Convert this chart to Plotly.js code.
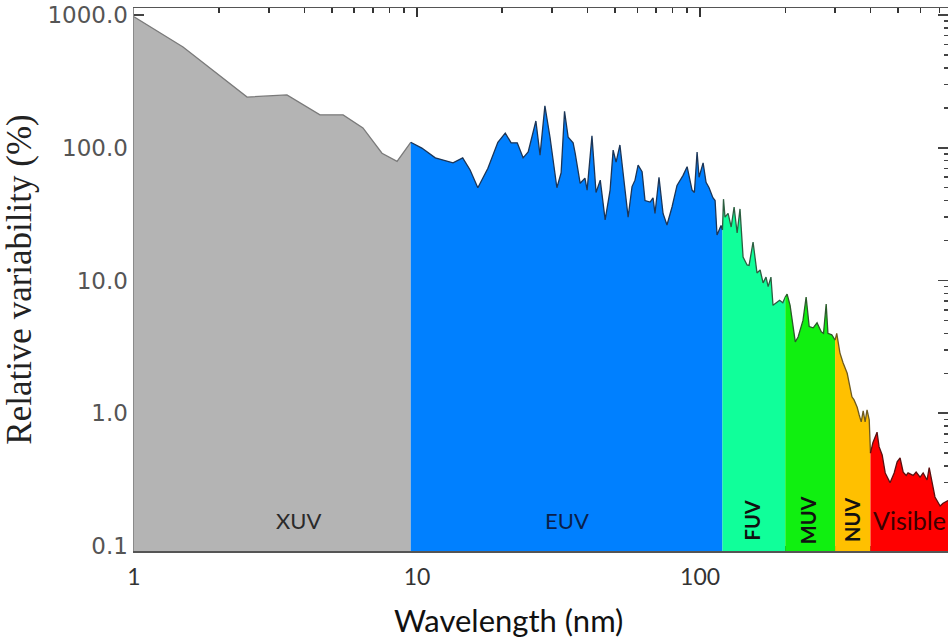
<!DOCTYPE html>
<html><head><meta charset="utf-8">
<script src="https://cdn.plot.ly/plotly-3.0.1.min.js"></script>
<style>html,body{margin:0;padding:0;background:#fff;} #chart{width:948px;height:638px;}</style>
</head><body><div id="chart"></div>
<script>
// ---- data (wavelength in nm, relative variability in %) ----
const bandNames = ['XUV', 'EUV', 'FUV', 'MUV', 'NUV', 'Visible'];

const xuvWl  = [1.0, 1.49, 2.51, 3.47, 4.54, 5.48, 6.44, 7.52, 8.50, 9.5];
const xuvVal = [970, 574, 241, 250, 177, 177, 141, 91, 79, 110];

const euvWl  = [9.5, 10.4, 11.6, 13.4, 14.5, 15.4, 16.4, 17.8, 19.3, 20.5, 21.5, 22.6, 23.7, 24.7, 26.3, 27.2, 28.3, 29.5, 31.2, 32.3,
                33.2, 34.2, 35.6, 36.2, 37.7, 39.2, 39.9, 41.5, 42.9, 44.4, 46.2, 48.1, 49.3, 50.5, 52.1, 54.3, 55.7, 57.5, 58.9, 60.4,
                62.4, 63.9, 66.6, 68.2, 69.3, 71.6, 74.0, 76.4, 79.6, 82.9, 87.1, 90.0, 93.7, 95.5, 97.6, 99.2, 102.5, 105, 107.6, 111,
                113, 114.8, 116.5, 118.6, 120];
const euvVal = [110, 99.5, 84, 77, 84, 68, 50, 70, 110, 129, 109, 109, 84, 93, 159, 88, 207, 120, 50, 65,
                188, 120, 109, 91, 54, 59, 48, 123, 46, 57, 28.6, 48, 96, 78, 105, 46, 30, 51, 57, 74,
                66, 40, 39, 42, 32, 60, 32, 26.2, 35.8, 52, 62, 72, 48, 46, 93, 60, 77, 55, 50, 42,
                40, 22, 23.5, 26, 24];

const fuvWl  = [120, 121, 122.5, 125.6, 128.8, 131.9, 135.2, 138.4, 141.9, 146.6, 149, 153.9, 158.9, 163, 167, 171, 174, 178, 181, 187, 191, 196, 200];
const fuvVal = [24, 41, 30, 32, 25.3, 35.8, 22.8, 34.6, 15, 13.1, 13, 19.5, 11.4, 12, 9.6, 10.6, 9.0, 10.6, 6.5, 6.9, 7.1, 6.8, 7.5];

const muvWl  = [200, 203, 208, 217, 222, 231, 237, 243, 251, 259, 268, 273, 279, 283, 292, 300];
const muvVal = [7.5, 7.9, 6.5, 3.45, 3.75, 5.0, 7.5, 4.5, 4.4, 4.8, 4.1, 4.0, 6.65, 4.0, 3.9, 3.56];

const nuvWl  = [300, 304, 312, 320, 331, 339, 344, 350, 359, 365, 371, 377, 383, 389, 396, 400];
const nuvVal = [3.56, 4.0, 2.85, 2.4, 2.0, 1.58, 1.33, 1.26, 1.11, 0.97, 0.86, 1.04, 0.86, 1.06, 0.89, 0.50];

const visWl  = [400, 408, 422, 429, 440, 451, 469, 485, 497, 509, 522, 535, 543, 566, 580, 599, 614, 634, 645, 660, 676, 705, 722, 752];
const visVal = [0.50, 0.60, 0.72, 0.56, 0.485, 0.355, 0.30, 0.355, 0.43, 0.46, 0.36, 0.34, 0.355, 0.34, 0.36, 0.33, 0.355, 0.314, 0.39, 0.30, 0.234, 0.20, 0.21, 0.22];

const xTickVals = [1, 10, 100];
const xTickText = ['1', '10', '100'];
const yTickVals = [0.1, 1, 10, 100, 1000];
const yTickText = ['0.1', '1.0', '10.0', '100.0', '1000.0'];
const xMinorVals = [2, 3, 4, 5, 6, 7, 8, 9, 20, 30, 40, 50, 60, 70, 80, 90, 200, 300, 400, 500, 600, 700];
const yMinorVals = [0.2, 0.3, 0.4, 0.5, 0.6, 0.7, 0.8, 0.9, 2, 3, 4, 5, 6, 7, 8, 9, 20, 30, 40, 50, 60, 70, 80, 90, 200, 300, 400, 500, 600, 700, 800, 900];

const labelWl = [3.8, 33.9, 153, 241, 344, 403];
const xTitle = 'Wavelength (nm)';
const yTitle = 'Relative variability (%)';

// ---- styling ----
const bandWl = [xuvWl, euvWl, fuvWl, muvWl, nuvWl, visWl];
const bandVal = [xuvVal, euvVal, fuvVal, muvVal, nuvVal, visVal];
const fillColors = ['#b4b4b4', '#0080ff', '#10ff9a', '#10f010', '#ffc000', '#ff0000'];
const lineColors = ['#7a7a7a', '#1b3557', '#2c5e40', '#2a5a2a', '#6e5a1e', '#5a1010'];

const traces = bandNames.map((n, i) => ({
  type: 'scatter', mode: 'lines', name: n,
  x: bandWl[i], y: bandVal[i],
  fill: 'tozeroy', fillcolor: fillColors[i],
  line: {color: lineColors[i], width: 1.3},
  showlegend: false, hoverinfo: 'skip'
}));

const labelFont = 'Lato, "Liberation Sans", sans-serif';
const labelY = 0.057;
const annotations = [
  {text: 'XUV', x: Math.log10(labelWl[0]), font: {size: 22, color: '#2a2a2a', family: labelFont}},
  {text: 'EUV', x: Math.log10(labelWl[1]), font: {size: 22, color: '#0a1f4a', family: labelFont}},
  {text: '<b>FUV</b>', x: Math.log10(labelWl[2]), textangle: -90, font: {size: 20, color: '#111', family: labelFont}},
  {text: '<b>MUV</b>', x: Math.log10(labelWl[3]), textangle: -90, font: {size: 20, color: '#111', family: labelFont}},
  {text: '<b>NUV</b>', x: Math.log10(labelWl[4]), textangle: -90, font: {size: 20, color: '#111', family: labelFont}},
  {text: 'Visible', x: Math.log10(labelWl[5]), xanchor: 'left', font: {size: 25, color: '#3a0000', family: labelFont}}
].map(a => Object.assign({xref: 'x', yref: 'paper', y: labelY, yanchor: 'middle', xanchor: a.xanchor || 'center', showarrow: false}, a));

// x-axis title placed as annotation (its centre sits left of the plot centre in the reference)
annotations.push({text: xTitle, xref: 'paper', yref: 'paper', x: 0.4595, y: -0.127, xanchor: 'center', yanchor: 'middle',
                  showarrow: false, font: {family: labelFont, size: 31, color: '#111'}});

const xRange = [0, 2.876];
const yRange = [-1.038, 3.053];

const layout = {
  width: 948, height: 638,
  margin: {l: 134, r: 0, t: 8, b: 87},
  paper_bgcolor: '#fff', plot_bgcolor: '#fff',
  showlegend: false,
  xaxis: {
    type: 'log', range: xRange, tickmode: 'array', tickvals: xTickVals, ticktext: xTickText,
    ticks: 'inside', ticklen: 9, tickwidth: 1.5, tickcolor: '#333', mirror: 'ticks', layer: 'below traces',
    minor: {tickmode: 'array', tickvals: xMinorVals, ticks: 'inside', ticklen: 5, tickwidth: 1.5, tickcolor: '#333', showgrid: false},
    showline: true, linecolor: '#555', linewidth: 1.5, showgrid: false, zeroline: false,
    automargin: false, ticklabelstandoff: 5,
    tickfont: {family: labelFont, size: 23, color: '#333'}
  },
  yaxis: {
    type: 'log', range: yRange, tickmode: 'array', tickvals: yTickVals, ticktext: yTickText,
    ticks: 'inside', ticklen: 10, tickwidth: 1.5, tickcolor: '#444', mirror: 'ticks', layer: 'below traces',
    minor: {tickmode: 'array', tickvals: yMinorVals, ticks: 'inside', ticklen: 4, tickwidth: 1.5, tickcolor: '#444', showgrid: false},
    showline: true, linecolor: '#8a8a8a', linewidth: 1.5, showgrid: false, zeroline: false,
    automargin: false, ticklabelstandoff: 0,
    tickfont: {family: '"DejaVu Sans", sans-serif', size: 23, color: '#555'},
    title: {text: yTitle, font: {family: '"Liberation Serif", "Times New Roman", serif', size: 35, color: '#222'}, standoff: 6}
  },
  annotations: annotations
};

Plotly.newPlot('chart', traces, layout, {displayModeBar: false, staticPlot: true});
</script>
</body></html>
